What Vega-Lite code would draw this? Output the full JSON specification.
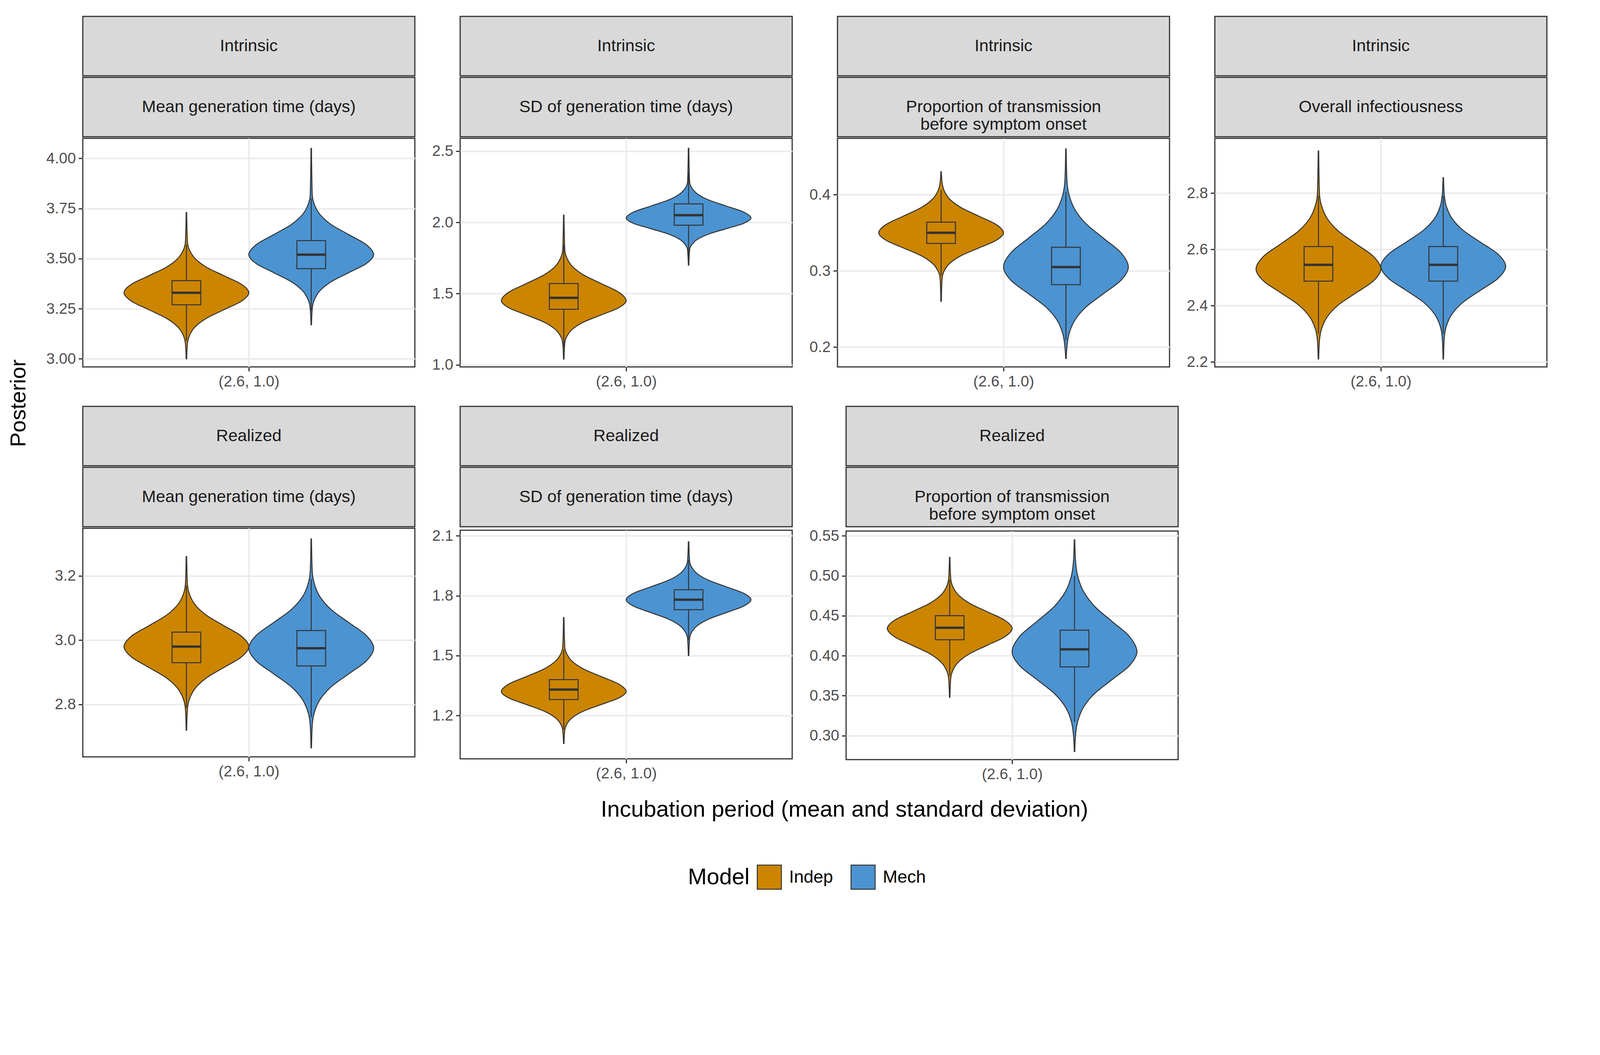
{
  "$schema": "https://vega.github.io/schema/vega-lite/v6.json",
  "background": "white",
  "padding": {"left": 20, "top": 40, "right": 20, "bottom": 20},
  "config": {
    "font": "Liberation Sans",
    "view": {"stroke": "#333333", "strokeWidth": 3},
    "axis": {"labelFontSize": 39, "labelColor": "#4d4d4d", "tickColor": "#333333", "tickWidth": 3, "tickSize": 11, "gridColor": "#ebebeb", "gridWidth": 4, "domain": false, "labelPadding": 7, "title": null},
    "legend": {"layout": {"bottom": {"anchor": "middle"}}},
    "concat": {"spacing": 40}
  },
  "datasets": {
    "vio": [
      {"panel": "P1", "model": "Indep", "v": [3.00,3.075,3.1175,3.16,3.2025,3.245,3.2875,3.33,3.3725,3.415,3.4575,3.50,3.5425,3.585,3.73], "w": [0.002,0.008,0.025,0.07,0.16,0.3,0.44,0.5,0.44,0.3,0.16,0.07,0.025,0.008,0.002]},
      {"panel": "P1", "model": "Mech", "v": [3.17,3.25,3.295,3.34,3.385,3.43,3.475,3.52,3.57,3.62,3.67,3.72,3.77,3.82,4.05], "w": [0.002,0.008,0.025,0.07,0.16,0.3,0.44,0.5,0.44,0.3,0.16,0.07,0.025,0.008,0.002]},
      {"panel": "P2", "model": "Indep", "v": [1.04,1.15,1.20,1.25,1.30,1.35,1.40,1.45,1.51,1.57,1.63,1.69,1.75,1.81,2.05], "w": [0.002,0.008,0.025,0.07,0.16,0.3,0.44,0.5,0.44,0.3,0.16,0.07,0.025,0.008,0.002]},
      {"panel": "P2", "model": "Mech", "v": [1.70,1.805,1.8425,1.88,1.9175,1.955,1.9925,2.03,2.0725,2.115,2.1575,2.20,2.2425,2.285,2.52], "w": [0.002,0.008,0.025,0.07,0.16,0.3,0.44,0.5,0.44,0.3,0.16,0.07,0.025,0.008,0.002]},
      {"panel": "P3", "model": "Indep", "v": [0.26,0.29,0.30,0.31,0.32,0.33,0.34,0.35,0.361,0.372,0.383,0.394,0.405,0.416,0.43], "w": [0.002,0.008,0.025,0.07,0.16,0.3,0.44,0.5,0.44,0.3,0.16,0.07,0.025,0.008,0.002]},
      {"panel": "P3", "model": "Mech", "v": [0.185,0.20,0.2175,0.235,0.2525,0.27,0.2875,0.305,0.324,0.343,0.362,0.381,0.40,0.419,0.46], "w": [0.002,0.008,0.025,0.07,0.16,0.3,0.44,0.5,0.44,0.3,0.16,0.07,0.025,0.008,0.002]},
      {"panel": "P4", "model": "Indep", "v": [2.21,2.275,2.3175,2.36,2.4025,2.445,2.4875,2.53,2.575,2.62,2.665,2.71,2.755,2.80,2.95], "w": [0.002,0.008,0.025,0.07,0.16,0.3,0.44,0.5,0.44,0.3,0.16,0.07,0.025,0.008,0.002]},
      {"panel": "P4", "model": "Mech", "v": [2.21,2.285,2.3275,2.37,2.4125,2.455,2.4975,2.54,2.5825,2.625,2.6675,2.71,2.7525,2.795,2.855], "w": [0.002,0.008,0.025,0.07,0.16,0.3,0.44,0.5,0.44,0.3,0.16,0.07,0.025,0.008,0.002]},
      {"panel": "P5", "model": "Indep", "v": [2.72,2.785,2.8175,2.85,2.8825,2.915,2.9475,2.98,3.0125,3.045,3.0775,3.11,3.1425,3.175,3.26], "w": [0.002,0.008,0.025,0.07,0.16,0.3,0.44,0.5,0.44,0.3,0.16,0.07,0.025,0.008,0.002]},
      {"panel": "P5", "model": "Mech", "v": [2.665,2.735,2.775,2.815,2.855,2.895,2.935,2.975,3.015,3.055,3.095,3.135,3.175,3.215,3.315], "w": [0.002,0.008,0.025,0.07,0.16,0.3,0.44,0.5,0.44,0.3,0.16,0.07,0.025,0.008,0.002]},
      {"panel": "P6", "model": "Indep", "v": [1.06,1.125,1.1575,1.19,1.2225,1.255,1.2875,1.32,1.3575,1.395,1.4325,1.47,1.5075,1.545,1.69], "w": [0.002,0.008,0.025,0.07,0.16,0.3,0.44,0.5,0.44,0.3,0.16,0.07,0.025,0.008,0.002]},
      {"panel": "P6", "model": "Mech", "v": [1.50,1.585,1.6175,1.65,1.6825,1.715,1.7475,1.78,1.8125,1.845,1.8775,1.91,1.9425,1.975,2.07], "w": [0.002,0.008,0.025,0.07,0.16,0.3,0.44,0.5,0.44,0.3,0.16,0.07,0.025,0.008,0.002]},
      {"panel": "P7", "model": "Indep", "v": [0.348,0.371,0.3815,0.392,0.4025,0.413,0.4235,0.434,0.4445,0.455,0.4655,0.476,0.4865,0.497,0.523], "w": [0.002,0.008,0.025,0.07,0.16,0.3,0.44,0.5,0.44,0.3,0.16,0.07,0.025,0.008,0.002]},
      {"panel": "P7", "model": "Mech", "v": [0.28,0.30,0.3175,0.335,0.3525,0.37,0.3875,0.405,0.424,0.443,0.462,0.481,0.50,0.519,0.545], "w": [0.002,0.008,0.025,0.07,0.16,0.3,0.44,0.5,0.44,0.3,0.16,0.07,0.025,0.008,0.002]}
    ],
    "box": [
      {"panel": "P1", "model": "Indep", "lw": 3.09, "q1": 3.27, "med": 3.33, "q3": 3.39, "uw": 3.57},
      {"panel": "P1", "model": "Mech", "lw": 3.24, "q1": 3.45, "med": 3.52, "q3": 3.59, "uw": 3.80},
      {"panel": "P2", "model": "Indep", "lw": 1.12, "q1": 1.39, "med": 1.47, "q3": 1.57, "uw": 1.84},
      {"panel": "P2", "model": "Mech", "lw": 1.76, "q1": 1.98, "med": 2.05, "q3": 2.13, "uw": 2.35},
      {"panel": "P3", "model": "Indep", "lw": 0.294, "q1": 0.336, "med": 0.350, "q3": 0.364, "uw": 0.406},
      {"panel": "P3", "model": "Mech", "lw": 0.209, "q1": 0.282, "med": 0.305, "q3": 0.331, "uw": 0.404},
      {"panel": "P4", "model": "Indep", "lw": 2.30, "q1": 2.487, "med": 2.545, "q3": 2.61, "uw": 2.79},
      {"panel": "P4", "model": "Mech", "lw": 2.30, "q1": 2.487, "med": 2.545, "q3": 2.61, "uw": 2.79},
      {"panel": "P5", "model": "Indep", "lw": 2.79, "q1": 2.93, "med": 2.98, "q3": 3.025, "uw": 3.17},
      {"panel": "P5", "model": "Mech", "lw": 2.76, "q1": 2.92, "med": 2.975, "q3": 3.03, "uw": 3.19},
      {"panel": "P6", "model": "Indep", "lw": 1.13, "q1": 1.28, "med": 1.33, "q3": 1.38, "uw": 1.53},
      {"panel": "P6", "model": "Mech", "lw": 1.58, "q1": 1.73, "med": 1.78, "q3": 1.83, "uw": 1.98},
      {"panel": "P7", "model": "Indep", "lw": 0.375, "q1": 0.42, "med": 0.435, "q3": 0.45, "uw": 0.495},
      {"panel": "P7", "model": "Mech", "lw": 0.317, "q1": 0.386, "med": 0.408, "q3": 0.432, "uw": 0.50}
    ]
  },
  "vconcat": [
    {
      "hconcat": [
        {"width": 50, "height": 1980, "view": {"stroke": null}, "data": {"values": [{"t": "Posterior"}]}, "mark": {"type": "text", "angle": 270, "fontSize": 56, "color": "black"}, "encoding": {"text": {"field": "t"}}},
        {
          "spacing": 40,
          "vconcat": [
            {"hconcat": [
              {"spacing": 0, "vconcat": [
                {"width": 850, "height": 152, "view": {"fill": "#d9d9d9", "stroke": "#333333", "strokeWidth": 3}, "data": {"values": [{"t": "Intrinsic"}]}, "mark": {"type": "text", "fontSize": 43, "color": "#1a1a1a", "lineBreak": "\n"}, "encoding": {"text": {"field": "t"}}},
                {"width": 850, "height": 152, "view": {"fill": "#d9d9d9", "stroke": "#333333", "strokeWidth": 3}, "data": {"values": [{"t": "Mean generation time (days)"}]}, "mark": {"type": "text", "fontSize": 43, "color": "#1a1a1a", "lineBreak": "\n"}, "encoding": {"text": {"field": "t"}}},
                {"width": 850, "height": 585, "layer": [
                  {"data": {"name": "vio"}, "transform": [{"filter": "datum.panel == 'P1'"}, {"flatten": ["v", "w"]}, {"calculate": "(datum.model == 'Indep' ? 1 : 2) - datum.w", "as": "lo"}, {"calculate": "(datum.model == 'Indep' ? 1 : 2) + datum.w", "as": "hi"}],
                   "mark": {"type": "area", "orient": "horizontal", "interpolate": "monotone", "stroke": "#333333", "strokeWidth": 2.5},
                   "encoding": {
                     "y": {"field": "v", "type": "quantitative", "scale": {"domain": [2.96, 4.10], "nice": false, "zero": false}, "axis": {"values": [3, 3.25, 3.5, 3.75, 4], "format": ".2f"}},
                     "x": {"field": "lo", "type": "quantitative", "scale": {"domain": [0.17, 2.83], "nice": false, "zero": false}, "axis": {"values": [1.5], "labelExpr": "'(2.6, 1.0)'"}},
                     "x2": {"field": "hi"},
                     "color": {"field": "model", "type": "nominal", "scale": {"domain": ["Indep", "Mech"], "range": ["#cc8500", "#4b93d1"]},
                       "legend": {"orient": "bottom", "direction": "horizontal", "title": "Model", "titleOrient": "left", "titleFontSize": 58, "titleFontWeight": "normal", "titleColor": "black", "labelFontSize": 45, "labelColor": "black", "symbolType": "square", "symbolSize": 3800, "symbolStrokeColor": "#333333", "symbolStrokeWidth": 2.5, "symbolOpacity": 1, "columnPadding": 40, "labelOffset": 18, "titlePadding": 18, "offset": 110}}
                   }},
                  {"data": {"name": "box"}, "transform": [{"filter": "datum.panel == 'P1'"}, {"calculate": "datum.model == 'Indep' ? 1 : 2", "as": "c"}, {"calculate": "datum.c - 0.115", "as": "blo"}, {"calculate": "datum.c + 0.115", "as": "bhi"}],
                   "layer": [
                     {"mark": {"type": "rule", "color": "#333333", "strokeWidth": 2.5}, "encoding": {"x": {"field": "c", "type": "quantitative"}, "y": {"field": "lw", "type": "quantitative"}, "y2": {"field": "q1"}}},
                     {"mark": {"type": "rule", "color": "#333333", "strokeWidth": 2.5}, "encoding": {"x": {"field": "c", "type": "quantitative"}, "y": {"field": "q3", "type": "quantitative"}, "y2": {"field": "uw"}}},
                     {"mark": {"type": "rect", "fillOpacity": 0, "stroke": "#333333", "strokeWidth": 2.5}, "encoding": {"x": {"field": "blo", "type": "quantitative"}, "x2": {"field": "bhi"}, "y": {"field": "q1", "type": "quantitative"}, "y2": {"field": "q3"}}},
                     {"mark": {"type": "rule", "color": "#333333", "strokeWidth": 6}, "encoding": {"x": {"field": "blo", "type": "quantitative"}, "x2": {"field": "bhi"}, "y": {"field": "med", "type": "quantitative"}}}
                   ]}
                ]}
              ]},
              {"spacing": 0, "vconcat": [
                {"width": 850, "height": 152, "view": {"fill": "#d9d9d9", "stroke": "#333333", "strokeWidth": 3}, "data": {"values": [{"t": "Intrinsic"}]}, "mark": {"type": "text", "fontSize": 43, "color": "#1a1a1a", "lineBreak": "\n"}, "encoding": {"text": {"field": "t"}}},
                {"width": 850, "height": 152, "view": {"fill": "#d9d9d9", "stroke": "#333333", "strokeWidth": 3}, "data": {"values": [{"t": "SD of generation time (days)"}]}, "mark": {"type": "text", "fontSize": 43, "color": "#1a1a1a", "lineBreak": "\n"}, "encoding": {"text": {"field": "t"}}},
                {"width": 850, "height": 585, "layer": [
                  {"data": {"name": "vio"}, "transform": [{"filter": "datum.panel == 'P2'"}, {"flatten": ["v", "w"]}, {"calculate": "(datum.model == 'Indep' ? 1 : 2) - datum.w", "as": "lo"}, {"calculate": "(datum.model == 'Indep' ? 1 : 2) + datum.w", "as": "hi"}],
                   "mark": {"type": "area", "orient": "horizontal", "interpolate": "monotone", "stroke": "#333333", "strokeWidth": 2.5},
                   "encoding": {
                     "y": {"field": "v", "type": "quantitative", "scale": {"domain": [0.985, 2.59], "nice": false, "zero": false}, "axis": {"values": [1, 1.5, 2, 2.5], "format": ".1f"}},
                     "x": {"field": "lo", "type": "quantitative", "scale": {"domain": [0.17, 2.83], "nice": false, "zero": false}, "axis": {"values": [1.5], "labelExpr": "'(2.6, 1.0)'"}},
                     "x2": {"field": "hi"},
                     "color": {"field": "model", "type": "nominal"}
                   }},
                  {"data": {"name": "box"}, "transform": [{"filter": "datum.panel == 'P2'"}, {"calculate": "datum.model == 'Indep' ? 1 : 2", "as": "c"}, {"calculate": "datum.c - 0.115", "as": "blo"}, {"calculate": "datum.c + 0.115", "as": "bhi"}],
                   "layer": [
                     {"mark": {"type": "rule", "color": "#333333", "strokeWidth": 2.5}, "encoding": {"x": {"field": "c", "type": "quantitative"}, "y": {"field": "lw", "type": "quantitative"}, "y2": {"field": "q1"}}},
                     {"mark": {"type": "rule", "color": "#333333", "strokeWidth": 2.5}, "encoding": {"x": {"field": "c", "type": "quantitative"}, "y": {"field": "q3", "type": "quantitative"}, "y2": {"field": "uw"}}},
                     {"mark": {"type": "rect", "fillOpacity": 0, "stroke": "#333333", "strokeWidth": 2.5}, "encoding": {"x": {"field": "blo", "type": "quantitative"}, "x2": {"field": "bhi"}, "y": {"field": "q1", "type": "quantitative"}, "y2": {"field": "q3"}}},
                     {"mark": {"type": "rule", "color": "#333333", "strokeWidth": 6}, "encoding": {"x": {"field": "blo", "type": "quantitative"}, "x2": {"field": "bhi"}, "y": {"field": "med", "type": "quantitative"}}}
                   ]}
                ]}
              ]},
              {"spacing": 0, "vconcat": [
                {"width": 850, "height": 152, "view": {"fill": "#d9d9d9", "stroke": "#333333", "strokeWidth": 3}, "data": {"values": [{"t": "Intrinsic"}]}, "mark": {"type": "text", "fontSize": 43, "color": "#1a1a1a", "lineBreak": "\n"}, "encoding": {"text": {"field": "t"}}},
                {"width": 850, "height": 152, "view": {"fill": "#d9d9d9", "stroke": "#333333", "strokeWidth": 3}, "data": {"values": [{"t": "Proportion of transmission\n before symptom onset"}]}, "mark": {"type": "text", "fontSize": 43, "color": "#1a1a1a", "lineBreak": "\n"}, "encoding": {"text": {"field": "t"}}},
                {"width": 850, "height": 585, "layer": [
                  {"data": {"name": "vio"}, "transform": [{"filter": "datum.panel == 'P3'"}, {"flatten": ["v", "w"]}, {"calculate": "(datum.model == 'Indep' ? 1 : 2) - datum.w", "as": "lo"}, {"calculate": "(datum.model == 'Indep' ? 1 : 2) + datum.w", "as": "hi"}],
                   "mark": {"type": "area", "orient": "horizontal", "interpolate": "monotone", "stroke": "#333333", "strokeWidth": 2.5},
                   "encoding": {
                     "y": {"field": "v", "type": "quantitative", "scale": {"domain": [0.174, 0.474], "nice": false, "zero": false}, "axis": {"values": [0.2, 0.3, 0.4], "format": ".1f"}},
                     "x": {"field": "lo", "type": "quantitative", "scale": {"domain": [0.17, 2.83], "nice": false, "zero": false}, "axis": {"values": [1.5], "labelExpr": "'(2.6, 1.0)'"}},
                     "x2": {"field": "hi"},
                     "color": {"field": "model", "type": "nominal"}
                   }},
                  {"data": {"name": "box"}, "transform": [{"filter": "datum.panel == 'P3'"}, {"calculate": "datum.model == 'Indep' ? 1 : 2", "as": "c"}, {"calculate": "datum.c - 0.115", "as": "blo"}, {"calculate": "datum.c + 0.115", "as": "bhi"}],
                   "layer": [
                     {"mark": {"type": "rule", "color": "#333333", "strokeWidth": 2.5}, "encoding": {"x": {"field": "c", "type": "quantitative"}, "y": {"field": "lw", "type": "quantitative"}, "y2": {"field": "q1"}}},
                     {"mark": {"type": "rule", "color": "#333333", "strokeWidth": 2.5}, "encoding": {"x": {"field": "c", "type": "quantitative"}, "y": {"field": "q3", "type": "quantitative"}, "y2": {"field": "uw"}}},
                     {"mark": {"type": "rect", "fillOpacity": 0, "stroke": "#333333", "strokeWidth": 2.5}, "encoding": {"x": {"field": "blo", "type": "quantitative"}, "x2": {"field": "bhi"}, "y": {"field": "q1", "type": "quantitative"}, "y2": {"field": "q3"}}},
                     {"mark": {"type": "rule", "color": "#333333", "strokeWidth": 6}, "encoding": {"x": {"field": "blo", "type": "quantitative"}, "x2": {"field": "bhi"}, "y": {"field": "med", "type": "quantitative"}}}
                   ]}
                ]}
              ]},
              {"spacing": 0, "vconcat": [
                {"width": 850, "height": 152, "view": {"fill": "#d9d9d9", "stroke": "#333333", "strokeWidth": 3}, "data": {"values": [{"t": "Intrinsic"}]}, "mark": {"type": "text", "fontSize": 43, "color": "#1a1a1a", "lineBreak": "\n"}, "encoding": {"text": {"field": "t"}}},
                {"width": 850, "height": 152, "view": {"fill": "#d9d9d9", "stroke": "#333333", "strokeWidth": 3}, "data": {"values": [{"t": "Overall infectiousness"}]}, "mark": {"type": "text", "fontSize": 43, "color": "#1a1a1a", "lineBreak": "\n"}, "encoding": {"text": {"field": "t"}}},
                {"width": 850, "height": 585, "layer": [
                  {"data": {"name": "vio"}, "transform": [{"filter": "datum.panel == 'P4'"}, {"flatten": ["v", "w"]}, {"calculate": "(datum.model == 'Indep' ? 1 : 2) - datum.w", "as": "lo"}, {"calculate": "(datum.model == 'Indep' ? 1 : 2) + datum.w", "as": "hi"}],
                   "mark": {"type": "area", "orient": "horizontal", "interpolate": "monotone", "stroke": "#333333", "strokeWidth": 2.5},
                   "encoding": {
                     "y": {"field": "v", "type": "quantitative", "scale": {"domain": [2.182, 2.995], "nice": false, "zero": false}, "axis": {"values": [2.2, 2.4, 2.6, 2.8], "format": ".1f"}},
                     "x": {"field": "lo", "type": "quantitative", "scale": {"domain": [0.17, 2.83], "nice": false, "zero": false}, "axis": {"values": [1.5], "labelExpr": "'(2.6, 1.0)'"}},
                     "x2": {"field": "hi"},
                     "color": {"field": "model", "type": "nominal"}
                   }},
                  {"data": {"name": "box"}, "transform": [{"filter": "datum.panel == 'P4'"}, {"calculate": "datum.model == 'Indep' ? 1 : 2", "as": "c"}, {"calculate": "datum.c - 0.115", "as": "blo"}, {"calculate": "datum.c + 0.115", "as": "bhi"}],
                   "layer": [
                     {"mark": {"type": "rule", "color": "#333333", "strokeWidth": 2.5}, "encoding": {"x": {"field": "c", "type": "quantitative"}, "y": {"field": "lw", "type": "quantitative"}, "y2": {"field": "q1"}}},
                     {"mark": {"type": "rule", "color": "#333333", "strokeWidth": 2.5}, "encoding": {"x": {"field": "c", "type": "quantitative"}, "y": {"field": "q3", "type": "quantitative"}, "y2": {"field": "uw"}}},
                     {"mark": {"type": "rect", "fillOpacity": 0, "stroke": "#333333", "strokeWidth": 2.5}, "encoding": {"x": {"field": "blo", "type": "quantitative"}, "x2": {"field": "bhi"}, "y": {"field": "q1", "type": "quantitative"}, "y2": {"field": "q3"}}},
                     {"mark": {"type": "rule", "color": "#333333", "strokeWidth": 6}, "encoding": {"x": {"field": "blo", "type": "quantitative"}, "x2": {"field": "bhi"}, "y": {"field": "med", "type": "quantitative"}}}
                   ]}
                ]}
              ]}
            ]},
            {"hconcat": [
              {"spacing": 0, "vconcat": [
                {"width": 850, "height": 152, "view": {"fill": "#d9d9d9", "stroke": "#333333", "strokeWidth": 3}, "data": {"values": [{"t": "Realized"}]}, "mark": {"type": "text", "fontSize": 43, "color": "#1a1a1a", "lineBreak": "\n"}, "encoding": {"text": {"field": "t"}}},
                {"width": 850, "height": 152, "view": {"fill": "#d9d9d9", "stroke": "#333333", "strokeWidth": 3}, "data": {"values": [{"t": "Mean generation time (days)"}]}, "mark": {"type": "text", "fontSize": 43, "color": "#1a1a1a", "lineBreak": "\n"}, "encoding": {"text": {"field": "t"}}},
                {"width": 850, "height": 585, "layer": [
                  {"data": {"name": "vio"}, "transform": [{"filter": "datum.panel == 'P5'"}, {"flatten": ["v", "w"]}, {"calculate": "(datum.model == 'Indep' ? 1 : 2) - datum.w", "as": "lo"}, {"calculate": "(datum.model == 'Indep' ? 1 : 2) + datum.w", "as": "hi"}],
                   "mark": {"type": "area", "orient": "horizontal", "interpolate": "monotone", "stroke": "#333333", "strokeWidth": 2.5},
                   "encoding": {
                     "y": {"field": "v", "type": "quantitative", "scale": {"domain": [2.637, 3.348], "nice": false, "zero": false}, "axis": {"values": [2.8, 3.0, 3.2], "format": ".1f"}},
                     "x": {"field": "lo", "type": "quantitative", "scale": {"domain": [0.17, 2.83], "nice": false, "zero": false}, "axis": {"values": [1.5], "labelExpr": "'(2.6, 1.0)'"}},
                     "x2": {"field": "hi"},
                     "color": {"field": "model", "type": "nominal"}
                   }},
                  {"data": {"name": "box"}, "transform": [{"filter": "datum.panel == 'P5'"}, {"calculate": "datum.model == 'Indep' ? 1 : 2", "as": "c"}, {"calculate": "datum.c - 0.115", "as": "blo"}, {"calculate": "datum.c + 0.115", "as": "bhi"}],
                   "layer": [
                     {"mark": {"type": "rule", "color": "#333333", "strokeWidth": 2.5}, "encoding": {"x": {"field": "c", "type": "quantitative"}, "y": {"field": "lw", "type": "quantitative"}, "y2": {"field": "q1"}}},
                     {"mark": {"type": "rule", "color": "#333333", "strokeWidth": 2.5}, "encoding": {"x": {"field": "c", "type": "quantitative"}, "y": {"field": "q3", "type": "quantitative"}, "y2": {"field": "uw"}}},
                     {"mark": {"type": "rect", "fillOpacity": 0, "stroke": "#333333", "strokeWidth": 2.5}, "encoding": {"x": {"field": "blo", "type": "quantitative"}, "x2": {"field": "bhi"}, "y": {"field": "q1", "type": "quantitative"}, "y2": {"field": "q3"}}},
                     {"mark": {"type": "rule", "color": "#333333", "strokeWidth": 6}, "encoding": {"x": {"field": "blo", "type": "quantitative"}, "x2": {"field": "bhi"}, "y": {"field": "med", "type": "quantitative"}}}
                   ]}
                ]}
              ]},
              {"spacing": 0, "vconcat": [
                {"width": 850, "height": 152, "view": {"fill": "#d9d9d9", "stroke": "#333333", "strokeWidth": 3}, "data": {"values": [{"t": "Realized"}]}, "mark": {"type": "text", "fontSize": 43, "color": "#1a1a1a", "lineBreak": "\n"}, "encoding": {"text": {"field": "t"}}},
                {"width": 850, "height": 152, "view": {"fill": "#d9d9d9", "stroke": "#333333", "strokeWidth": 3}, "data": {"values": [{"t": "SD of generation time (days)"}]}, "mark": {"type": "text", "fontSize": 43, "color": "#1a1a1a", "lineBreak": "\n"}, "encoding": {"text": {"field": "t"}}},
                {"width": 850, "height": 585, "layer": [
                  {"data": {"name": "vio"}, "transform": [{"filter": "datum.panel == 'P6'"}, {"flatten": ["v", "w"]}, {"calculate": "(datum.model == 'Indep' ? 1 : 2) - datum.w", "as": "lo"}, {"calculate": "(datum.model == 'Indep' ? 1 : 2) + datum.w", "as": "hi"}],
                   "mark": {"type": "area", "orient": "horizontal", "interpolate": "monotone", "stroke": "#333333", "strokeWidth": 2.5},
                   "encoding": {
                     "y": {"field": "v", "type": "quantitative", "scale": {"domain": [0.983, 2.128], "nice": false, "zero": false}, "axis": {"values": [1.2, 1.5, 1.8, 2.1], "format": ".1f"}},
                     "x": {"field": "lo", "type": "quantitative", "scale": {"domain": [0.17, 2.83], "nice": false, "zero": false}, "axis": {"values": [1.5], "labelExpr": "'(2.6, 1.0)'"}},
                     "x2": {"field": "hi"},
                     "color": {"field": "model", "type": "nominal"}
                   }},
                  {"data": {"name": "box"}, "transform": [{"filter": "datum.panel == 'P6'"}, {"calculate": "datum.model == 'Indep' ? 1 : 2", "as": "c"}, {"calculate": "datum.c - 0.115", "as": "blo"}, {"calculate": "datum.c + 0.115", "as": "bhi"}],
                   "layer": [
                     {"mark": {"type": "rule", "color": "#333333", "strokeWidth": 2.5}, "encoding": {"x": {"field": "c", "type": "quantitative"}, "y": {"field": "lw", "type": "quantitative"}, "y2": {"field": "q1"}}},
                     {"mark": {"type": "rule", "color": "#333333", "strokeWidth": 2.5}, "encoding": {"x": {"field": "c", "type": "quantitative"}, "y": {"field": "q3", "type": "quantitative"}, "y2": {"field": "uw"}}},
                     {"mark": {"type": "rect", "fillOpacity": 0, "stroke": "#333333", "strokeWidth": 2.5}, "encoding": {"x": {"field": "blo", "type": "quantitative"}, "x2": {"field": "bhi"}, "y": {"field": "q1", "type": "quantitative"}, "y2": {"field": "q3"}}},
                     {"mark": {"type": "rule", "color": "#333333", "strokeWidth": 6}, "encoding": {"x": {"field": "blo", "type": "quantitative"}, "x2": {"field": "bhi"}, "y": {"field": "med", "type": "quantitative"}}}
                   ]}
                ]}
              ]},
              {"spacing": 0, "vconcat": [
                {"width": 850, "height": 152, "view": {"fill": "#d9d9d9", "stroke": "#333333", "strokeWidth": 3}, "data": {"values": [{"t": "Realized"}]}, "mark": {"type": "text", "fontSize": 43, "color": "#1a1a1a", "lineBreak": "\n"}, "encoding": {"text": {"field": "t"}}},
                {"width": 850, "height": 152, "view": {"fill": "#d9d9d9", "stroke": "#333333", "strokeWidth": 3}, "data": {"values": [{"t": "Proportion of transmission\n before symptom onset"}]}, "mark": {"type": "text", "fontSize": 43, "color": "#1a1a1a", "lineBreak": "\n"}, "encoding": {"text": {"field": "t"}}},
                {"width": 850, "height": 585, "layer": [
                  {"data": {"name": "vio"}, "transform": [{"filter": "datum.panel == 'P7'"}, {"flatten": ["v", "w"]}, {"calculate": "(datum.model == 'Indep' ? 1 : 2) - datum.w", "as": "lo"}, {"calculate": "(datum.model == 'Indep' ? 1 : 2) + datum.w", "as": "hi"}],
                   "mark": {"type": "area", "orient": "horizontal", "interpolate": "monotone", "stroke": "#333333", "strokeWidth": 2.5},
                   "encoding": {
                     "y": {"field": "v", "type": "quantitative", "scale": {"domain": [0.27, 0.556], "nice": false, "zero": false}, "axis": {"values": [0.30, 0.35, 0.40, 0.45, 0.50, 0.55], "format": ".2f"}},
                     "x": {"field": "lo", "type": "quantitative", "scale": {"domain": [0.17, 2.83], "nice": false, "zero": false}, "axis": {"values": [1.5], "labelExpr": "'(2.6, 1.0)'"}},
                     "x2": {"field": "hi"},
                     "color": {"field": "model", "type": "nominal"}
                   }},
                  {"data": {"name": "box"}, "transform": [{"filter": "datum.panel == 'P7'"}, {"calculate": "datum.model == 'Indep' ? 1 : 2", "as": "c"}, {"calculate": "datum.c - 0.115", "as": "blo"}, {"calculate": "datum.c + 0.115", "as": "bhi"}],
                   "layer": [
                     {"mark": {"type": "rule", "color": "#333333", "strokeWidth": 2.5}, "encoding": {"x": {"field": "c", "type": "quantitative"}, "y": {"field": "lw", "type": "quantitative"}, "y2": {"field": "q1"}}},
                     {"mark": {"type": "rule", "color": "#333333", "strokeWidth": 2.5}, "encoding": {"x": {"field": "c", "type": "quantitative"}, "y": {"field": "q3", "type": "quantitative"}, "y2": {"field": "uw"}}},
                     {"mark": {"type": "rect", "fillOpacity": 0, "stroke": "#333333", "strokeWidth": 2.5}, "encoding": {"x": {"field": "blo", "type": "quantitative"}, "x2": {"field": "bhi"}, "y": {"field": "q1", "type": "quantitative"}, "y2": {"field": "q3"}}},
                     {"mark": {"type": "rule", "color": "#333333", "strokeWidth": 6}, "encoding": {"x": {"field": "blo", "type": "quantitative"}, "x2": {"field": "bhi"}, "y": {"field": "med", "type": "quantitative"}}}
                   ]}
                ]}
              ]}
            ]},
            {"width": 3900, "height": 55, "view": {"stroke": null}, "data": {"values": [{"t": "Incubation period (mean and standard deviation)"}]}, "mark": {"type": "text", "fontSize": 58, "color": "black"}, "encoding": {"text": {"field": "t"}}}
          ]
        }
      ]
    }
  ],
  "resolve": {"scale": {"color": "shared"}}
}
